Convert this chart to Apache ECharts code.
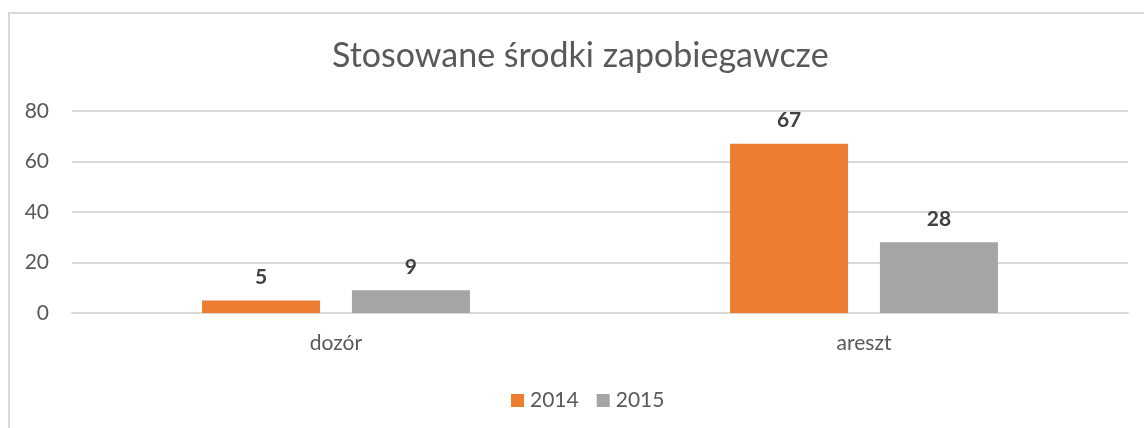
<!DOCTYPE html>
<html>
<head>
<meta charset="utf-8">
<script src="https://cdn.jsdelivr.net/npm/echarts@6/dist/echarts.min.js"></script>
<style>
  html, body { margin: 0; padding: 0; background: #fff; }
  #frame { position: absolute; left: 8px; top: 12px; width: 1150px; height: 430px;
           border-left: 2px solid #d9d9d9; border-top: 2px solid #d9d9d9; box-sizing: border-box; }
  #chart { position: absolute; left: 0; top: 0; width: 1144px; height: 428px; }
</style>
</head>
<body>
<div id="frame"></div>
<div id="chart"></div>
<script>
const categories = ['dozór', 'areszt'];
const seriesNames = ['2014', '2015'];
const values2014 = [5, 67];
const values2015 = [9, 28];
const yTicks = [0, 20, 40, 60, 80];

const FONT = 'Lato, "Liberation Sans", sans-serif';
const colors = ['#ED7D31', '#A5A5A5'];

const chart = echarts.init(document.getElementById('chart'), null, { renderer: 'canvas' });

const labelStyle = {
  show: true,
  position: 'top',
  distance: 13,
  fontFamily: FONT,
  fontSize: 21,
  fontWeight: 'bold',
  color: '#404040'
};

chart.setOption({
  backgroundColor: 'transparent',
  animation: false,
  title: {
    text: 'Stosowane środki zapobiegawcze',
    left: 332,
    top: 39,
    padding: 0,
    textStyle: { fontFamily: FONT, fontSize: 34, fontWeight: 'normal', color: '#595959' }
  },
  legend: {
    top: 390,
    left: 511,
    padding: 0,
    itemWidth: 13,
    itemHeight: 13,
    itemGap: 18,
    icon: 'rect',
    textStyle: { fontFamily: FONT, fontSize: 21, color: '#595959', padding: [0, 0, 0, 1] },
    data: seriesNames
  },
  grid: { left: 72, right: 16, top: 111, bottom: 115 },
  xAxis: {
    type: 'category',
    data: categories,
    axisLine: { show: true, lineStyle: { color: '#d9d9d9', width: 2 } },
    axisTick: { show: false },
    axisLabel: { fontFamily: FONT, fontSize: 21, color: '#595959', margin: 20 }
  },
  yAxis: {
    type: 'value',
    min: yTicks[0],
    max: yTicks[yTicks.length - 1],
    interval: yTicks[1] - yTicks[0],
    axisLine: { show: false },
    axisTick: { show: false },
    axisLabel: { fontFamily: FONT, fontSize: 21, color: '#595959', margin: 23 },
    splitLine: { lineStyle: { color: '#d9d9d9', width: 2 } }
  },
  series: [
    {
      name: seriesNames[0],
      type: 'bar',
      data: values2014,
      barWidth: 118,
      barGap: '27%',
      itemStyle: { color: colors[0] },
      label: labelStyle
    },
    {
      name: seriesNames[1],
      type: 'bar',
      data: values2015,
      barWidth: 118,
      barGap: '27%',
      itemStyle: { color: colors[1] },
      label: labelStyle
    }
  ]
});
</script>
</body>
</html>
